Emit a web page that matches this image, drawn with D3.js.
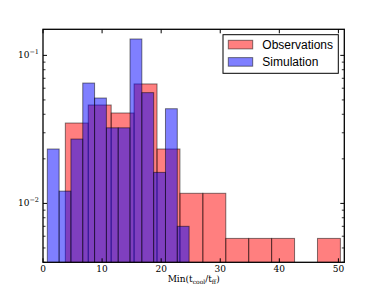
<!DOCTYPE html>
<html>
<head>
<meta charset="utf-8">
<script src="https://cdn.jsdelivr.net/npm/d3@7"></script>
<style>
  body { margin: 0; background: #fff; }
  svg text { fill: #000; }
  .tick-label { font-family: "DejaVu Serif", "Liberation Serif", serif; font-size: 9px; }
  .legend-text { font-family: "Liberation Sans", Arial, sans-serif; font-size: 12px; }
</style>
</head>
<body>
<div class="chart-container"></div>
<script>
//! DATA
const obsEdges = [3.78, 7.66, 11.54, 15.42, 19.30, 23.18, 27.06, 30.94, 34.82, 38.70, 42.58, 46.46, 50.34];
const obsDensity = [0.0349, 0.0462, 0.0408, 0.0641, 0.0233, 0.0117, 0.0117, 0.0058, 0.0058, 0.0058, 0, 0.0058];
const simEdges = [0.73, 2.73, 4.73, 6.73, 8.73, 10.73, 12.73, 14.73, 16.73, 18.73, 20.73, 22.73, 24.73];
const simDensity = [0.0233, 0.0121, 0.0272, 0.065, 0.0515, 0.0324, 0.0324, 0.129, 0.056, 0.0162, 0.0436, 0.0070];
const xTicks = [0, 10, 20, 30, 40, 50];
const yMajor = [0.01, 0.1];
const seriesNames = ['Observations', 'Simulation'];
const seriesColors = ['#ff0000', '#0000ff'];

//! CONSTS
const width = 383;
const height = 291;
const plotLeft = 43, plotRight = 344.3, plotTop = 29.3, plotBottom = 262.3;

const svg = d3.select('.chart-container')
  .append('svg')
  .attr('width', width)
  .attr('height', height);

//! SCALES
const xScale = d3.scaleLinear().domain([0, 51]).range([plotLeft, plotRight]);
const yScale = d3.scaleLog().domain([0.004, 0.15]).range([plotBottom, plotTop]);

svg.append('clipPath').attr('id', 'plot-clip')
  .append('rect')
  .attr('x', plotLeft).attr('y', plotTop)
  .attr('width', plotRight - plotLeft).attr('height', plotBottom - plotTop);

//! BARS
const toBins = (edges, vals) => vals
  .map((v, i) => ({ x0: edges[i], x1: edges[i + 1], v }))
  .filter(d => d.v > 0);

const drawHist = (bins, color) => {
  svg.append('g')
    .attr('clip-path', 'url(#plot-clip)')
    .selectAll('rect')
    .data(bins)
    .enter()
    .append('rect')
    .attr('x', d => xScale(d.x0))
    .attr('width', d => xScale(d.x1) - xScale(d.x0))
    .attr('y', d => yScale(d.v))
    .attr('height', d => plotBottom + 5 - yScale(d.v))
    .attr('fill', color)
    .attr('fill-opacity', 0.5)
    .attr('stroke', '#000')
    .attr('stroke-opacity', 0.5)
    .attr('stroke-width', 1);
};

drawHist(toBins(obsEdges, obsDensity), seriesColors[0]);
drawHist(toBins(simEdges, simDensity), seriesColors[1]);

//! AXES (classic inward ticks on all sides)
const axisG = svg.append('g');

xTicks.forEach(t => {
  const x = xScale(t);
  axisG.append('line').attr('x1', x).attr('x2', x).attr('y1', plotBottom).attr('y2', plotBottom - 4)
    .attr('stroke', '#000').attr('stroke-width', 1);
  axisG.append('line').attr('x1', x).attr('x2', x).attr('y1', plotTop).attr('y2', plotTop + 4)
    .attr('stroke', '#000').attr('stroke-width', 1);
  axisG.append('text')
    .attr('class', 'tick-label')
    .attr('x', x).attr('y', plotBottom + 9.5)
    .attr('text-anchor', 'middle')
    .text(t);
});

const yMinor = [];
[0.001, 0.01, 0.1].forEach(base => {
  for (let k = 2; k <= 9; k++) {
    const v = base * k;
    if (v >= 0.004 && v <= 0.15) yMinor.push(v);
  }
});

yMinor.forEach(v => {
  const y = yScale(v);
  axisG.append('line').attr('x1', plotLeft).attr('x2', plotLeft + 2.5).attr('y1', y).attr('y2', y)
    .attr('stroke', '#000').attr('stroke-width', 0.8);
  axisG.append('line').attr('x1', plotRight).attr('x2', plotRight - 2.5).attr('y1', y).attr('y2', y)
    .attr('stroke', '#000').attr('stroke-width', 0.8);
});

yMajor.forEach(v => {
  const y = yScale(v);
  axisG.append('line').attr('x1', plotLeft).attr('x2', plotLeft + 4).attr('y1', y).attr('y2', y)
    .attr('stroke', '#000').attr('stroke-width', 1);
  axisG.append('line').attr('x1', plotRight).attr('x2', plotRight - 4).attr('y1', y).attr('y2', y)
    .attr('stroke', '#000').attr('stroke-width', 1);
  const label = axisG.append('text')
    .attr('class', 'tick-label')
    .attr('x', plotLeft - 4).attr('y', y + 3)
    .attr('text-anchor', 'end');
  label.append('tspan').text('10');
  label.append('tspan').attr('dy', -4).attr('font-size', '6.5px').text('\u2212' + Math.round(-Math.log10(v)));
});

axisG.append('rect')
  .attr('x', plotLeft).attr('y', plotTop)
  .attr('width', plotRight - plotLeft).attr('height', plotBottom - plotTop)
  .attr('fill', 'none')
  .attr('stroke', '#000')
  .attr('stroke-width', 1.3);

//! X LABEL
const xLabel = svg.append('text')
  .attr('class', 'tick-label')
  .attr('x', (plotLeft + plotRight) / 2).attr('y', 282)
  .attr('text-anchor', 'middle');
xLabel.append('tspan').text('Min(t');
xLabel.append('tspan').attr('dy', 1.5).attr('font-size', '6px').text('cool');
xLabel.append('tspan').attr('dy', -1.5).text('/t');
xLabel.append('tspan').attr('dy', 1.5).attr('font-size', '6px').text('ff');
xLabel.append('tspan').attr('dy', -1.5).text(')');

//! LEGEND
const legend = svg.append('g');
legend.append('rect')
  .attr('x', 223).attr('y', 34.7)
  .attr('width', 115.3).attr('height', 38.6)
  .attr('fill', '#fff')
  .attr('stroke', '#000')
  .attr('stroke-width', 1);

seriesNames.forEach((name, i) => {
  const cy = 44.5 + i * 17.3;
  legend.append('rect')
    .attr('x', 228.3).attr('y', cy - 4.2)
    .attr('width', 24.4).attr('height', 8.6)
    .attr('fill', seriesColors[i])
    .attr('fill-opacity', 0.5)
    .attr('stroke', '#000')
    .attr('stroke-opacity', 0.5)
    .attr('stroke-width', 1);
  legend.append('text')
    .attr('class', 'legend-text')
    .attr('x', 262.3).attr('y', cy + 4.3)
    .text(name);
});
</script>
</body>
</html>
